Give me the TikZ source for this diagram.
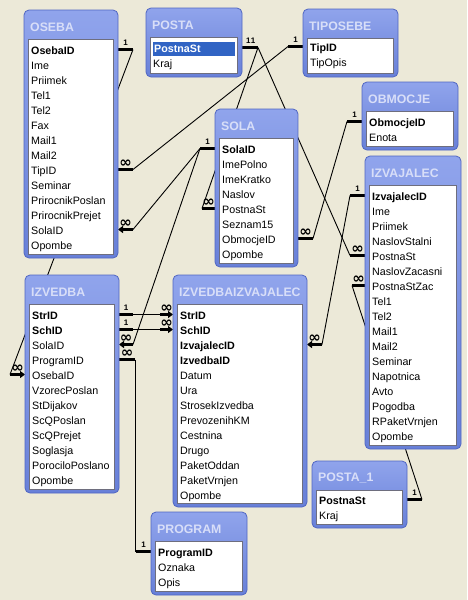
\documentclass[tikz,border=0pt]{standalone}
\usepackage{fontspec}
\setmainfont{Liberation Sans}
\newfontfamily\symfont{DejaVu Sans}
\usetikzlibrary{arrows.meta,calc}
\definecolor{bgcol}{HTML}{ECE9D8}
\definecolor{frametop}{HTML}{90A4EC}
\definecolor{framebot}{HTML}{6880D8}
\definecolor{frameedge}{HTML}{5066C2}
\definecolor{titlecol}{HTML}{D8DEF8}
\definecolor{listedge}{HTML}{6E6E7E}
\definecolor{selcol}{HTML}{3164C4}
\pgfdeclarelayer{back}
\pgfdeclarelayer{lines}
\pgfsetlayers{back,lines,main}
\tikzset{
 tblframe/.style={draw=frameedge, top color=frametop, bottom color=framebot, rounded corners=5pt, line width=0.8pt, inner sep=0pt, outer sep=0pt},
 tbltitle/.style={font=\fontsize{12.3}{14}\selectfont\bfseries, text=titlecol, anchor=west, inner sep=0pt},
 listbox/.style={draw=listedge, fill=white, line width=0.7pt, inner sep=0pt, outer sep=0pt},
 fn/.style={font=\fontsize{10.7}{12}\selectfont, anchor=west, inner sep=0pt, text height=7.6pt, text depth=0pt},
 fk/.style={fn, font=\fontsize{10.7}{12}\selectfont\bfseries},
 fh/.style={fk, text=white, fill=selcol, inner xsep=1pt, inner ysep=3.2pt, text width=80pt},
 rel/.style={line width=0.9pt, black},
 seg/.style={line width=2.8pt, black},
 segarrow/.style={seg, -{Triangle[length=5pt,width=7pt]}},
 cardone/.style={font=\fontsize{8}{8}\selectfont\bfseries, inner sep=0pt},
 cardmany/.style={font=\symfont\fontsize{15}{15}\selectfont\bfseries, inner sep=0pt},
}
% #1 name, #2 title, #3 x1, #4 y1, #5 x2, #6 y2, #7 first row y, #8 fields
\newcommand\dbtable[8]{%
  \node[tblframe, anchor=north west, minimum width={#5-#3}, minimum height={#6-#4}] (#1) at (#3,#4) {};
  \node[tbltitle] (#1-title) at ({#3+6},{#4+17}) {#2};
  \node[listbox, anchor=north west, minimum width={#5-#3-9}, minimum height={#6-#4-33}] (#1-list) at ({#3+4.5},{#4+29}) {};
  \foreach \fsty/\fname [count=\fidx from 0] in {#8} {
    \node[\fsty] (#1-\fname) at ({#3+7},{#7+15*\fidx}) {\fname};
  }%
}
\newcommand\ep[3]{\path (#2 -| #3) ++(0,-1.5) coordinate (#1);}
\begin{document}
\begin{tikzpicture}[x=1pt,y=-1pt]
\useasboundingbox (0,0) rectangle (467,600);
\begin{pgfonlayer}{back}
\fill[bgcol] (0,0) rectangle (467,600);
\end{pgfonlayer}

\dbtable{oseba}{OSEBA}{24}{10}{118}{258}{51}{fk/OsebaID,fn/Ime,fn/Priimek,fn/Tel1,fn/Tel2,fn/Fax,fn/Mail1,fn/Mail2,fn/TipID,fn/Seminar,fn/PrirocnikPoslan,fn/PrirocnikPrejet,fn/SolaID,fn/Opombe}
\dbtable{posta}{POSTA}{146}{8}{242}{77}{49}{fh/PostnaSt,fn/Kraj}
\dbtable{tiposebe}{TIPOSEBE}{303}{9}{398}{77}{48}{fk/TipID,fn/TipOpis}
\dbtable{obmocje}{OBMOCJE}{362}{82}{458}{150}{123}{fk/ObmocjeID,fn/Enota}
\dbtable{sola}{SOLA}{215}{109}{298}{267}{150}{fk/SolaID,fn/ImePolno,fn/ImeKratko,fn/Naslov,fn/PostnaSt,fn/Seznam15,fn/ObmocjeID,fn/Opombe}
\dbtable{izvajalec}{IZVAJALEC}{365}{156}{461}{449}{197}{fk/IzvajalecID,fn/Ime,fn/Priimek,fn/NaslovStalni,fn/PostnaSt,fn/NaslovZacasni,fn/PostnaStZac,fn/Tel1,fn/Tel2,fn/Mail1,fn/Mail2,fn/Seminar,fn/Napotnica,fn/Avto,fn/Pogodba,fn/RPaketVrnjen,fn/Opombe}
\dbtable{izvedba}{IZVEDBA}{25}{275}{119}{493}{316}{fk/StrID,fk/SchID,fn/SolaID,fn/ProgramID,fn/OsebaID,fn/VzorecPoslan,fn/StDijakov,fn/ScQPoslan,fn/ScQPrejet,fn/Soglasja,fn/PorociloPoslano,fn/Opombe}
\dbtable{izi}{IZVEDBAIZVAJALEC}{173}{275}{307}{507}{316}{fk/StrID,fk/SchID,fk/IzvajalecID,fk/IzvedbaID,fn/Datum,fn/Ura,fn/StrosekIzvedba,fn/PrevozenihKM,fn/Cestnina,fn/Drugo,fn/PaketOddan,fn/PaketVrnjen,fn/Opombe}
\dbtable{postaone}{POSTA\_1}{312}{461}{407}{528}{501}{fk/PostnaSt,fn/Kraj}
\dbtable{program}{PROGRAM}{151}{512}{247}{595}{553}{fk/ProgramID,fn/Oznaka,fn/Opis}

% end points
\ep{a1}{oseba-OsebaID}{oseba.east}
\ep{b1}{izvedba-OsebaID}{izvedba.west}
\ep{a2}{posta-PostnaSt}{posta.east}
\ep{b2}{sola-PostnaSt}{sola.west}
\ep{b3}{izvajalec-PostnaSt}{izvajalec.west}
\ep{a4}{tiposebe-TipID}{tiposebe.west}
\ep{b4}{oseba-TipID}{oseba.east}
\ep{a5}{sola-SolaID}{sola.west}
\ep{b5}{oseba-SolaID}{oseba.east}
\ep{b6}{izvedba-SolaID}{izvedba.east}
\ep{a7}{obmocje-ObmocjeID}{obmocje.west}
\ep{b7}{sola-ObmocjeID}{sola.east}
\ep{a8}{izvajalec-IzvajalecID}{izvajalec.west}
\ep{b8}{izi-IzvajalecID}{izi.east}
\ep{a9}{izvajalec-PostnaStZac}{izvajalec.west}
\ep{b9}{postaone-PostnaSt}{postaone.east}
\ep{a10}{izvedba-StrID}{izvedba.east}
\ep{b10}{izi-StrID}{izi.west}
\ep{a11}{izvedba-SchID}{izvedba.east}
\ep{b11}{izi-SchID}{izi.west}
\ep{a12}{izvedba-ProgramID}{izvedba.east}
\ep{b12}{program-ProgramID}{program.west}

\begin{pgfonlayer}{lines}
% short thick segments
\draw[seg] (a1) -- ++(15,0) coordinate (a1o);
\draw[segarrow] ([xshift=-15pt]b1) coordinate (b1o) -- (b1);
\draw[seg] (a2) -- ++(16,0) coordinate (a2o);
\draw[seg] (b2) -- ++(-13,0) coordinate (b2o);
\draw[seg] (b3) -- ++(-15,0) coordinate (b3o);
\draw[seg] (a4) -- ++(-15,0) coordinate (a4o);
\draw[seg] (b4) -- ++(15,0) coordinate (b4o);
\draw[seg] (a5) -- ++(-15,0) coordinate (a5o);
\draw[segarrow] ([xshift=15pt]b5) coordinate (b5o) -- (b5);
\draw[segarrow] ([xshift=14pt]b6) coordinate (b6o) -- (b6);
\draw[seg] (a7) -- ++(-15,0) coordinate (a7o);
\draw[seg] (b7) -- ++(15,0) coordinate (b7o);
\draw[seg] (a8) -- ++(-15,0) coordinate (a8o);
\draw[segarrow] ([xshift=15pt]b8) coordinate (b8o) -- (b8);
\draw[seg] (a9) -- ++(-13,0) coordinate (a9o);
\draw[seg] (b9) -- ++(15,0) coordinate (b9o);
\draw[seg] (a10) -- ++(14,0) coordinate (a10o);
\draw[segarrow] ([xshift=-13pt]b10) coordinate (b10o) -- (b10);
\draw[seg] (a11) -- ++(14,0) coordinate (a11o);
\draw[segarrow] ([xshift=-13pt]b11) coordinate (b11o) -- (b11);
\draw[seg] (a12) -- ++(16,0) coordinate (a12o);
\draw[seg] (b12) -- ++(-15,0) coordinate (b12o);
% connectors
\draw[rel] (a1o) -- (b1o);
\draw[rel] (a2o) -- (b2o);
\draw[rel] (a2o) -- (b3o);
\draw[rel] (a4o) -- (b4o);
\draw[rel] (a5o) -- (b5o);
\draw[rel] (a5o) -- (b6o);
\draw[rel] (a7o) -- (b7o);
\draw[rel] (a8o) -- (b8o);
\draw[rel] (a9o) -- (b9o);
\draw[rel] (a10o) -- (b10o);
\draw[rel] (a11o) -- (b11o);
\draw[rel] (a12o) -- (a12o |- b12o) -- (b12o);
\end{pgfonlayer}

% cardinality labels
\node[cardone] at ($(a1)!0.5!(a1o)+(0,-7)$) {1};
\node[cardmany] at ($(b1)!0.5!(b1o)+(0,-6)$) {∞};
\node[cardone] at ($(a2)!0.4!(a2o)+(0,-7)$) {1};
\node[cardone] at ($(a2)!0.7!(a2o)+(0,-7)$) {1};
\node[cardmany] at ($(b2)!0.5!(b2o)+(0,-6)$) {∞};
\node[cardmany] at ($(b3)!0.5!(b3o)+(0,-6)$) {∞};
\node[cardone] at ($(a4)!0.5!(a4o)+(0,-7)$) {1};
\node[cardmany] at ($(b4)!0.5!(b4o)+(0,-6)$) {∞};
\node[cardone] at ($(a5)!0.5!(a5o)+(0,-7)$) {1};
\node[cardmany] at ($(b5)!0.5!(b5o)+(0,-6)$) {∞};
\node[cardmany] at ($(b6)!0.5!(b6o)+(0,-6)$) {∞};
\node[cardone] at ($(a7)!0.5!(a7o)+(0,-7)$) {1};
\node[cardmany] at ($(b7)!0.5!(b7o)+(0,-6)$) {∞};
\node[cardone] at ($(a8)!0.5!(a8o)+(0,-7)$) {1};
\node[cardmany] at ($(b8)!0.5!(b8o)+(0,-6)$) {∞};
\node[cardmany] at ($(a9)!0.5!(a9o)+(0,-6)$) {∞};
\node[cardone] at ($(b9)!0.5!(b9o)+(0,-7)$) {1};
\node[cardone] at ($(a10)!0.5!(a10o)+(0,-7)$) {1};
\node[cardmany] at ($(b10)!0.5!(b10o)+(0,-6)$) {∞};
\node[cardone] at ($(a11)!0.5!(a11o)+(0,-7)$) {1};
\node[cardmany] at ($(b11)!0.5!(b11o)+(0,-6)$) {∞};
\node[cardmany] at ($(a12)!0.5!(a12o)+(0,-6)$) {∞};
\node[cardone] at ($(b12)!0.5!(b12o)+(0,-7)$) {1};
\end{tikzpicture}
\end{document}
